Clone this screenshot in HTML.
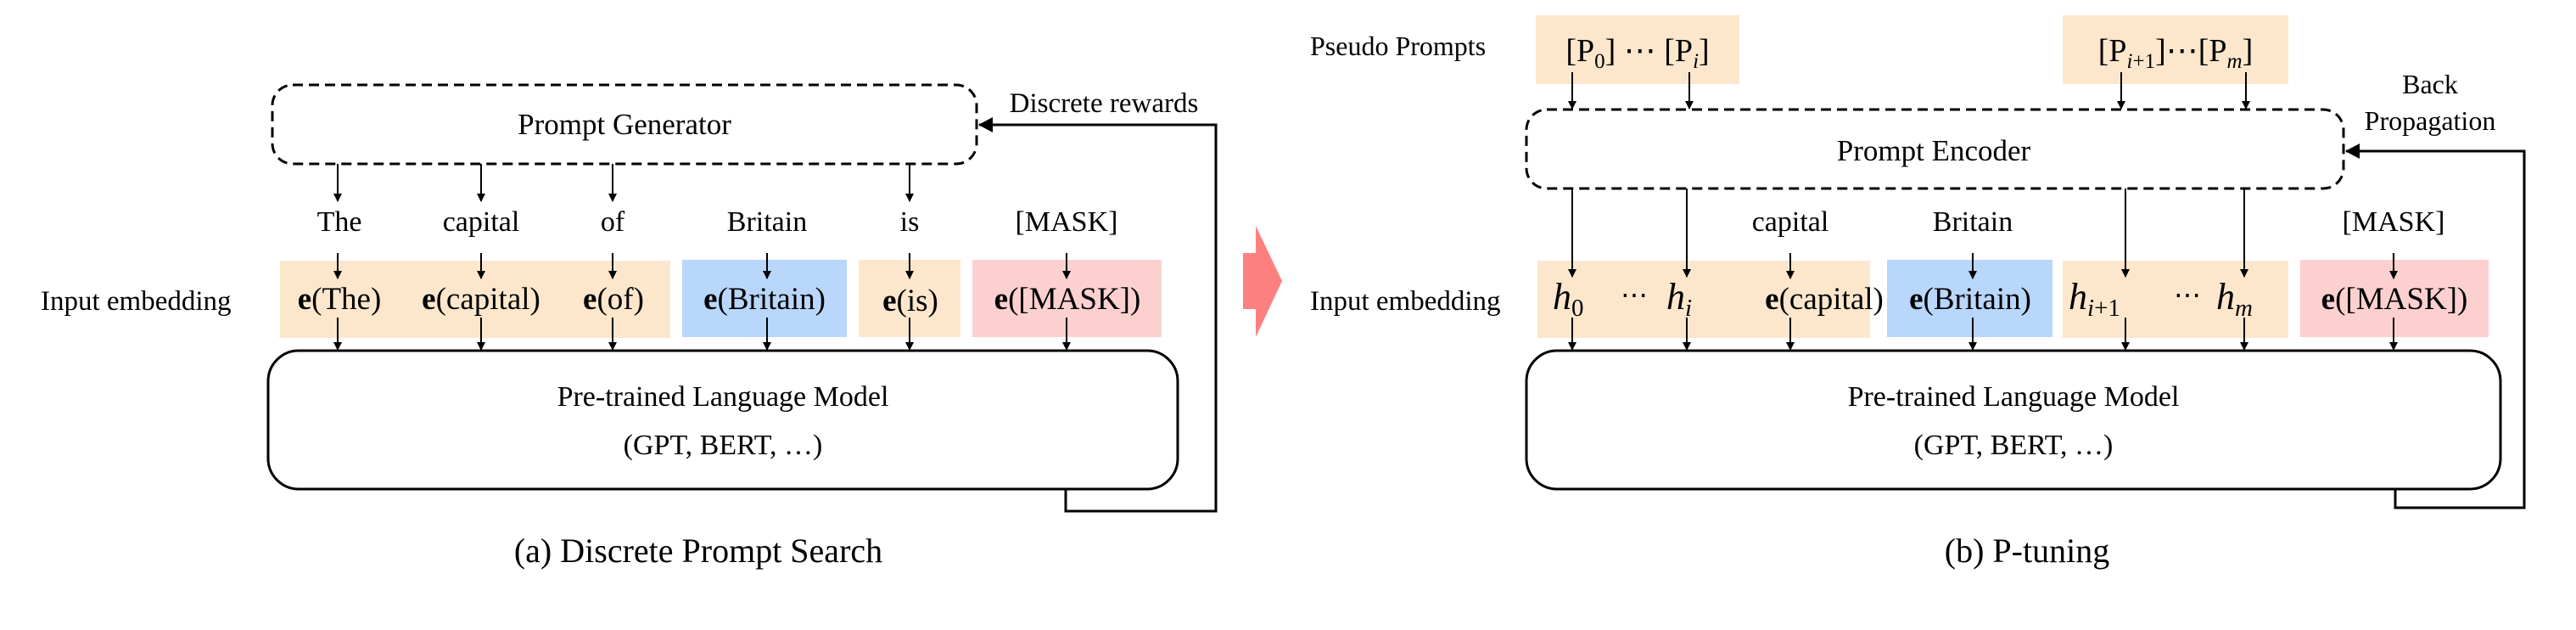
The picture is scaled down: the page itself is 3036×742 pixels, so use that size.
<!DOCTYPE html>
<html><head><style>
html,body{margin:0;padding:0;background:#fff;}
svg{display:block;}
text{font-family:"Liberation Serif",serif;fill:#000;}
</style></head><body>
<svg width="3036" height="742" viewBox="0 0 3036 742" xmlns="http://www.w3.org/2000/svg">
<defs>
<marker id="a" markerWidth="10" markerHeight="10" refX="9" refY="5" orient="auto" markerUnits="userSpaceOnUse"><path d="M0,0 L10,5 L0,10 Z" fill="#000"/></marker>
<marker id="b" markerWidth="18" markerHeight="18" refX="16" refY="9" orient="auto" markerUnits="userSpaceOnUse"><path d="M0,0 L17,9 L0,18 Z" fill="#000"/></marker>
</defs>

<!-- LEFT PANEL -->
<rect x="321" y="100" width="830" height="93" rx="24" fill="none" stroke="#000" stroke-width="3" stroke-dasharray="12,7"/>
<text x="736" y="158" font-size="35" text-anchor="middle">Prompt Generator</text>
<text x="1301" y="132" font-size="33" text-anchor="middle">Discrete rewards</text>
<polyline points="1256,577 1256,602 1433,602 1433,147 1154,147" fill="none" stroke="#000" stroke-width="3" marker-end="url(#b)"/>

<g stroke="#000" stroke-width="2" fill="none" marker-end="url(#a)">
<line x1="398" y1="193" x2="398" y2="237"/>
<line x1="567" y1="193" x2="567" y2="237"/>
<line x1="722" y1="193" x2="722" y2="237"/>
<line x1="1072" y1="193" x2="1072" y2="237"/>
</g>
<g font-size="34" text-anchor="middle">
<text x="400" y="272">The</text>
<text x="567" y="272">capital</text>
<text x="722" y="272">of</text>
<text x="904" y="272">Britain</text>
<text x="1072" y="272">is</text>
<text x="1257" y="272">[MASK]</text>
</g>
<rect x="330" y="307" width="460" height="91" fill="#fde7cc"/>
<rect x="804" y="306" width="194" height="91" fill="#b9d6fb"/>
<rect x="1012" y="306" width="120" height="91" fill="#fde7cc"/>
<rect x="1146" y="306" width="223" height="91" fill="#fdd0d0"/>
<text x="48" y="365" font-size="33">Input embedding</text>
<g font-size="37" text-anchor="middle">
<text x="400" y="364"><tspan font-weight="bold">e</tspan>(The)</text>
<text x="567" y="364"><tspan font-weight="bold">e</tspan>(capital)</text>
<text x="723" y="364"><tspan font-weight="bold">e</tspan>(of)</text>
<text x="901" y="364"><tspan font-weight="bold">e</tspan>(Britain)</text>
<text x="1073" y="366"><tspan font-weight="bold">e</tspan>(is)</text>
<text x="1258" y="364"><tspan font-weight="bold">e</tspan>([MASK])</text>
</g>
<g stroke="#000" stroke-width="2" fill="none" marker-end="url(#a)">
<line x1="398" y1="298" x2="398" y2="328"/><line x1="398" y1="374" x2="398" y2="412"/>
<line x1="567" y1="298" x2="567" y2="328"/><line x1="567" y1="374" x2="567" y2="412"/>
<line x1="722" y1="298" x2="722" y2="328"/><line x1="722" y1="374" x2="722" y2="412"/>
<line x1="904" y1="298" x2="904" y2="328"/><line x1="904" y1="374" x2="904" y2="412"/>
<line x1="1072" y1="298" x2="1072" y2="328"/><line x1="1072" y1="374" x2="1072" y2="412"/>
<line x1="1257" y1="298" x2="1257" y2="328"/><line x1="1257" y1="374" x2="1257" y2="412"/>
</g>
<rect x="316" y="413" width="1072" height="163" rx="36" fill="none" stroke="#000" stroke-width="3"/>
<text x="852" y="478" font-size="34" text-anchor="middle">Pre-trained Language Model</text>
<text x="852" y="535" font-size="34" text-anchor="middle">(GPT, BERT, …)</text>
<text x="823" y="662" font-size="40" text-anchor="middle">(a) Discrete Prompt Search</text>

<!-- red arrow -->
<polygon points="1465,298 1480,298 1480,266 1511,331 1480,397 1480,364 1465,364" fill="#fd8080"/>

<!-- RIGHT PANEL -->
<text x="1544" y="65" font-size="32">Pseudo Prompts</text>
<rect x="1810" y="18" width="240" height="81" fill="#fde7cc"/>
<rect x="2431" y="18" width="266" height="81" fill="#fde7cc"/>
<text x="1930" y="72" font-size="38" text-anchor="middle">[P<tspan font-size="25" dy="8">0</tspan><tspan dy="-8">] ⋯ [P</tspan><tspan font-size="25" font-style="italic" dy="8">i</tspan><tspan dy="-8">]</tspan></text>
<text x="2564" y="72" font-size="38" text-anchor="middle">[P<tspan font-size="25" font-style="italic" dy="8">i</tspan><tspan font-size="25" dy="0">+1</tspan><tspan dy="-8">]⋯[P</tspan><tspan font-size="25" font-style="italic" dy="8">m</tspan><tspan dy="-8">]</tspan></text>
<g stroke="#000" stroke-width="2" fill="none" marker-end="url(#a)">
<line x1="1853" y1="85" x2="1853" y2="128"/>
<line x1="1991" y1="85" x2="1991" y2="128"/>
<line x1="2500" y1="85" x2="2500" y2="128"/>
<line x1="2647" y1="85" x2="2647" y2="128"/>
</g>
<rect x="1799" y="129" width="963" height="93" rx="24" fill="none" stroke="#000" stroke-width="3" stroke-dasharray="12,7"/>
<text x="2279" y="189" font-size="35" text-anchor="middle">Prompt Encoder</text>
<text x="2864" y="110" font-size="32" text-anchor="middle">Back</text>
<text x="2864" y="153" font-size="32" text-anchor="middle">Propagation</text>
<polyline points="2823,577 2823,598 2975,598 2975,178 2765,178" fill="none" stroke="#000" stroke-width="3" marker-end="url(#b)"/>
<g font-size="34" text-anchor="middle">
<text x="2110" y="272">capital</text>
<text x="2325" y="272">Britain</text>
<text x="2821" y="272">[MASK]</text>
</g>
<rect x="1812" y="307" width="392" height="91" fill="#fde7cc"/>
<rect x="2224" y="306" width="195" height="91" fill="#b9d6fb"/>
<rect x="2431" y="307" width="266" height="91" fill="#fde7cc"/>
<rect x="2711" y="306" width="222" height="91" fill="#fdd0d0"/>
<text x="1544" y="365" font-size="33">Input embedding</text>
<g font-size="44">
<text x="1830" y="364" font-style="italic">h<tspan font-size="29" font-style="normal" dy="8">0</tspan></text>
<text x="1910" y="358" font-size="32">⋯</text>
<text x="1964" y="364" font-style="italic">h<tspan font-size="29" dy="8">i</tspan></text>
<text x="2150" y="364" font-size="37" text-anchor="middle"><tspan font-weight="bold">e</tspan>(capital)</text>
<text x="2322" y="364" font-size="37" text-anchor="middle"><tspan font-weight="bold">e</tspan>(Britain)</text>
<text x="2438" y="364" font-style="italic">h<tspan font-size="29" dy="8">i</tspan><tspan font-size="29" font-style="normal">+1</tspan></text>
<text x="2562" y="358" font-size="32">⋯</text>
<text x="2612" y="364" font-style="italic">h<tspan font-size="29" dy="8">m</tspan></text>
<text x="2822" y="364" font-size="37" text-anchor="middle"><tspan font-weight="bold">e</tspan>([MASK])</text>
</g>
<g stroke="#000" stroke-width="2" fill="none" marker-end="url(#a)">
<line x1="1853" y1="222" x2="1853" y2="326"/><line x1="1853" y1="374" x2="1853" y2="412"/>
<line x1="1988" y1="222" x2="1988" y2="326"/><line x1="1988" y1="374" x2="1988" y2="412"/>
<line x1="2110" y1="298" x2="2110" y2="328"/><line x1="2110" y1="374" x2="2110" y2="412"/>
<line x1="2325" y1="298" x2="2325" y2="328"/><line x1="2325" y1="374" x2="2325" y2="412"/>
<line x1="2505" y1="222" x2="2505" y2="326"/><line x1="2505" y1="374" x2="2505" y2="412"/>
<line x1="2645" y1="222" x2="2645" y2="326"/><line x1="2645" y1="374" x2="2645" y2="412"/>
<line x1="2821" y1="298" x2="2821" y2="328"/><line x1="2821" y1="374" x2="2821" y2="412"/>
</g>
<rect x="1799" y="413" width="1148" height="163" rx="36" fill="none" stroke="#000" stroke-width="3"/>
<text x="2373" y="478" font-size="34" text-anchor="middle">Pre-trained Language Model</text>
<text x="2373" y="535" font-size="34" text-anchor="middle">(GPT, BERT, …)</text>
<text x="2389" y="662" font-size="40" text-anchor="middle">(b) P-tuning</text>
</svg>
</body></html>
